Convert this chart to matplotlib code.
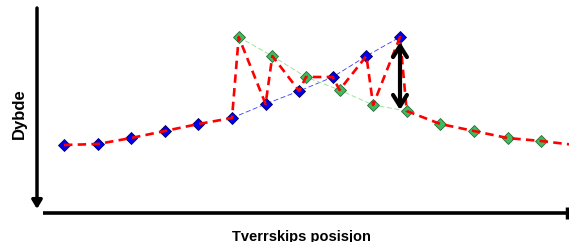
"""Tverrskips dybdeprofil: to overlappende målinger med sikk-sakk-sammenkobling"""
import matplotlib
matplotlib.use('Agg')
import matplotlib.pyplot as plt

# posisjon (indeks langs tverrskips) og dybde
blue_x = [0, 1, 2, 3, 4, 5, 6, 7, 8, 9, 10]
blue_depth = [14.5, 14.4, 13.8, 13.1, 12.4, 11.8, 10.4, 9.1, 7.7, 5.6, 3.7]
green_x = [5.2, 6.2, 7.2, 8.2, 9.2, 10.2, 11.2, 12.2, 13.2, 14.2, 15.2]
green_depth = [3.7, 5.6, 7.7, 9.0, 10.5, 11.1, 12.4, 13.1, 13.8, 14.1, 14.5]

W, H = 569, 242
X_LEFT_PX, X_STEP_PX = 64, 33.6


def zigzag(bx, by, gx, gy, n_start=6):
    """blå 0..5, så annenhver grønn/blå, deretter resten av grønne"""
    xs, ys = list(bx[:n_start]), list(by[:n_start])
    for i in range(len(bx) - n_start + 1):
        xs.append(gx[i]); ys.append(gy[i])
        if n_start + i < len(bx):
            xs.append(bx[n_start + i]); ys.append(by[n_start + i])
    xs += gx[len(bx) - n_start + 1:]
    ys += gy[len(bx) - n_start + 1:]
    return xs, ys


fig = plt.figure(figsize=(W / 100, H / 100), dpi=100)
ax = fig.add_axes([0, 0, 1, 1])
ax.set_xlim(-X_LEFT_PX / X_STEP_PX, (W - X_LEFT_PX) / X_STEP_PX)
ax.set_ylim(H / 10, 0)
ax.axis('off')
plt.rcParams['font.family'] = ['Liberation Sans', 'DejaVu Sans']

# tynne linjer gjennom hver serie
ax.plot(blue_x[5:], blue_depth[5:], '--', color='#3a3aff', lw=0.6,
        dashes=(6, 3), zorder=2)
ax.plot(green_x[:6], green_depth[:6], '--', color='#8ee08e', lw=0.6,
        dashes=(6, 3), zorder=2)

ax.plot(blue_x, blue_depth, 'D', color='#0000ee', mec='#000060',
        mew=0.6, ms=6, zorder=3)
ax.plot(green_x, green_depth, 'D', color='#3dbb5e', mec='#2a6a38',
        mew=0.6, ms=6, zorder=3)

zx, zy = zigzag(blue_x, blue_depth, green_x, green_depth)
ax.plot(zx, zy, '--', color='#ff0000', lw=1.9, dashes=(3.2, 2.0), zorder=4)

# dobbelpil mellom de to målingene
ax.annotate('', xy=(blue_x[10], blue_depth[10] + 0.5),
            xytext=(blue_x[10], green_depth[5] - 0.1),
            arrowprops=dict(arrowstyle='<->,head_length=0.8,head_width=0.5',
                            color='black', lw=3, shrinkA=0, shrinkB=0),
            zorder=5)

# akser
ax.annotate('', xy=(37 / W, 1 - 209 / H), xytext=(37 / W, 1 - 8 / H),
            xycoords='axes fraction', textcoords='axes fraction',
            arrowprops=dict(arrowstyle='-|>,head_length=0.5,head_width=0.3',
                            color='black', lw=2.5, shrinkA=0, shrinkB=0))
ax.plot([43 / W, 567 / W], [1 - 212.5 / H] * 2, color='black', lw=2.6,
        transform=ax.transAxes, solid_capstyle='butt')
ax.plot([567 / W], [1 - 212.5 / H], marker='|', ms=8, mew=2.5,
        color='black', transform=ax.transAxes, clip_on=False)

ax.text(19 / W, 1 - 114 / H, 'Dybde', rotation=90, ha='center',
        va='center', fontsize=12, fontweight='bold', transform=ax.transAxes)
ax.text(301 / W, 1 - 241.5 / H, 'Tverrskips posisjon', ha='center',
        va='baseline', fontsize=10.5, fontweight='bold', transform=ax.transAxes)

fig.savefig('out.png', dpi=100)
plt.close(fig)
